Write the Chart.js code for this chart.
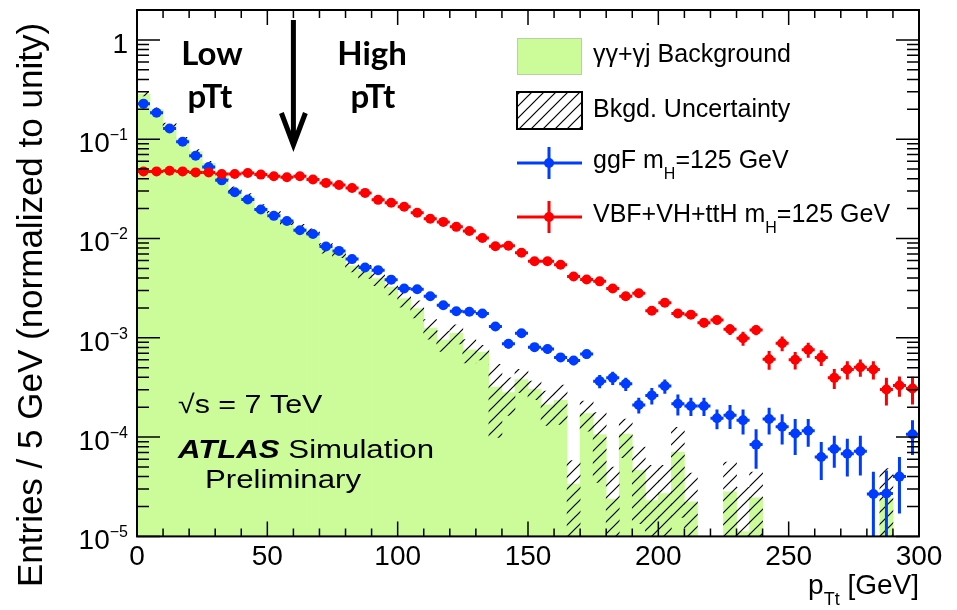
<!DOCTYPE html>
<html>
<head>
<meta charset="utf-8">
<script src="https://cdn.jsdelivr.net/npm/chart.js@4.4.1/dist/chart.umd.min.js"></script>
<style>
html, body { margin: 0; padding: 0; background: #fff; }
</style>
</head>
<body>
<canvas id="pttChart" width="957" height="610"></canvas>
<script>
// bin centres, 5 GeV bins
const ptBins = [2.5, 7.5, 12.5, 17.5, 22.5, 27.5, 32.5, 37.5, 42.5, 47.5,
  52.5, 57.5, 62.5, 67.5, 72.5, 77.5, 82.5, 87.5, 92.5, 97.5,
  102.5, 107.5, 112.5, 117.5, 122.5, 127.5, 132.5, 137.5, 142.5, 147.5,
  152.5, 157.5, 162.5, 167.5, 172.5, 177.5, 182.5, 187.5, 192.5, 197.5,
  202.5, 207.5, 212.5, 217.5, 222.5, 227.5, 232.5, 237.5, 242.5, 247.5,
  252.5, 257.5, 262.5, 267.5, 272.5, 277.5, 282.5, 287.5, 292.5, 297.5];
const binHalf = 2.5;

// gamma-gamma + gamma-j background (normalized)
const bkgYield = [0.285, 0.199, 0.139, 0.100, 0.075, 0.057, 0.042, 0.031, 0.0265, 0.0204,
  0.0175, 0.0150, 0.0128, 0.0114, 0.0080, 0.0072, 0.0053, 0.00466, 0.00394, 0.00325,
  0.00248, 0.00197, 0.00125, 0.00095, 0.00111, 0.000757, 0.000718, 0.000319, 0.00028, 0.00038,
  0.000302, 0.000211, 0.000234, 0.0000336, 0.000173, 0.000106, 0.0000238, 0.000107, 0.0000464, 0.0000229,
  0.000027, 0.0000705, 0.0000223, null, null, 0.0000281, 0.0000112, 0.0000245, null, null,
  null, null, null, null, null, null, null, 0.0000241, null, null];
const bkgError = [0.012, 0.008, 0.006, 0.0045, 0.0035, 0.0028, 0.0025, 0.0021, 0.0019, 0.0015,
  0.0013, 0.0012, 0.0011, 0.0011, 0.0009, 0.0008, 0.0007, 0.0007, 0.0006, 0.00055,
  0.00045, 0.00038, 0.00028, 0.00022, 0.00024, 0.00020, 0.00012, 0.00022, 0.000115, 0.0001,
  0.000064, 0.00008, 0.0001, 0.0000244, 0.000058, 0.000071, 0.000026, 0.000045, 0.000033, 0.000029,
  0.000025, 0.000055, 0.000021, null, null, 0.000028, 0.00002, 0.00002, null, null,
  null, null, null, null, null, null, null, 0.000024, null, null];

// ggF mH=125
const ggfYield = [0.228, 0.185, 0.128, 0.0944, 0.068, 0.0524, 0.0385, 0.0292, 0.0247, 0.0196,
  0.0169, 0.0150, 0.0121, 0.0111, 0.0083, 0.0075, 0.0062, 0.0051, 0.0048, 0.00385,
  0.00313, 0.00308, 0.00262, 0.00213, 0.00185, 0.00183, 0.00176, 0.00130, 0.00087, 0.00111,
  0.000805, 0.00077, 0.000635, 0.00059, 0.000685, 0.000366, 0.000395, 0.000344, 0.000211, 0.000263,
  0.000327, 0.000217, 0.000206, 0.000206, 0.000155, 0.000166, 0.000148, 0.000084, 0.000152, 0.000127,
  0.000109, 0.000116, 0.000063, 0.000076, 0.000068, 0.000072, 0.0000267, 0.000027, 0.00004, 0.000107];
const ggfError = [0.007, 0.0055, 0.0038, 0.0028, 0.002, 0.0016, 0.0012, 0.0009, 0.00075, 0.0006,
  0.0005, 0.00045, 0.00036, 0.00033, 0.00025, 0.00023, 0.00019, 0.00016, 0.00014, 0.00012,
  0.00019, 0.00018, 0.00016, 0.00013, 0.00011, 0.00011, 0.00011, 0.00008, 0.00009, 0.00011,
  0.00008, 0.00008, 0.000065, 0.00006, 0.00007, 0.000055, 0.00006, 0.000052, 0.000038, 0.00005,
  0.000053, 0.000052, 0.000043, 0.000043, 0.000035, 0.000045, 0.000042, 0.000036, 0.000046, 0.000043,
  0.000043, 0.000036, 0.000026, 0.000027, 0.000028, 0.000031, 0.000018, 0.000019, 0.000023, 0.000041];

// VBF+VH+ttH mH=125
const vbfYield = [0.0474, 0.0474, 0.0481, 0.0474, 0.0463, 0.0463, 0.0447, 0.0447, 0.0457, 0.0440,
  0.0423, 0.0413, 0.0423, 0.0392, 0.0363, 0.0345, 0.0322, 0.0288, 0.0245, 0.0229,
  0.0209, 0.0182, 0.0158, 0.0147, 0.0131, 0.0119, 0.0101, 0.00834, 0.00845, 0.0072,
  0.0059, 0.0059, 0.00543, 0.00415, 0.00387, 0.0037, 0.00313, 0.00262, 0.00281, 0.00187,
  0.00225, 0.00176, 0.00171, 0.00142, 0.00151, 0.00122, 0.00099, 0.0012, 0.000607, 0.00088,
  0.0006, 0.00076, 0.000635, 0.000395, 0.00048, 0.000506, 0.00048, 0.000302, 0.000331, 0.000309];
const vbfError = [0.0008, 0.0008, 0.0008, 0.0008, 0.0008, 0.0008, 0.0008, 0.0008, 0.0008, 0.0008,
  0.0008, 0.0008, 0.0008, 0.0007, 0.0007, 0.0007, 0.0006, 0.0006, 0.0005, 0.0005,
  0.0005, 0.00045, 0.0004, 0.0004, 0.00038, 0.00036, 0.00034, 0.0003, 0.0003, 0.00028,
  0.00026, 0.00026, 0.00025, 0.00022, 0.00021, 0.0002, 0.00019, 0.00018, 0.00018, 0.00016,
  0.00018, 0.00016, 0.00016, 0.00015, 0.00015, 0.00015, 0.00016, 0.00014, 0.00013, 0.00015,
  0.00012, 0.00013, 0.000115, 0.00009, 0.0001, 0.0001, 0.0001, 0.000094, 0.000076, 0.000096];

const xMajorTicks = [0, 50, 100, 150, 200, 250, 300];
const xMinorTicks = [10, 20, 30, 40, 60, 70, 80, 90, 110, 120, 130, 140, 160, 170, 180, 190,
  210, 220, 230, 240, 260, 270, 280, 290];
const yDecades = [1e-5, 1e-4, 1e-3, 1e-2, 1e-1, 1];
const yDecadeLabels = [['10', '\u22125'], ['10', '\u22124'], ['10', '\u22123'], ['10', '\u22122'], ['10', '\u22121'], ['1', '']];
const ptCut = 60;

const FONT = '"Liberation Sans", Arial, Helvetica, sans-serif';
const GREEN = 'rgb(204,252,153)';
const BLUE = 'rgb(0,60,255)';
const RED = 'rgb(255,0,0)';
const MARKER_R = 5;

const canvas = document.getElementById('pttChart');
const ctx = canvas.getContext('2d');

function makeHatch() {
    const c = document.createElement('canvas');
    c.width = 12;
    c.height = 12;
    const g = c.getContext('2d');
    g.strokeStyle = '#000';
    g.lineWidth = 1.2;
    g.beginPath();
    g.moveTo(0, 12); g.lineTo(12, 0);
    g.moveTo(-6, 6); g.lineTo(6, -6);
    g.moveTo(6, 18); g.lineTo(18, 6);
    g.stroke();
    return ctx.createPattern(c, 'repeat');
}
const hatch = makeHatch();

const bkgBars = [];
const bandBars = [];
ptBins.forEach((x, i) => {
    if (bkgYield[i] == null) return;
    bkgBars.push({x: x, y: bkgYield[i]});
    bandBars.push({x: x, y: [Math.max(bkgYield[i] - bkgError[i], 1e-6), bkgYield[i] + bkgError[i]]});
});
const ggfPoints = ptBins.map((x, i) => ({x: x, y: ggfYield[i]}));
const vbfPoints = ptBins.map((x, i) => ({x: x, y: vbfYield[i]}));

function text(s, x, y, font, align, sx) {
    ctx.save();
    ctx.font = font;
    ctx.fillStyle = '#000';
    ctx.textAlign = align || 'left';
    ctx.textBaseline = 'alphabetic';
    ctx.translate(x, y);
    ctx.scale(sx || 1, 1);
    ctx.fillText(s, 0, 0);
    const w = ctx.measureText(s).width * (sx || 1);
    ctx.restore();
    return w;
}

// x and y error bars, drawn just under each marker set
const errorBars = {
    id: 'errorBars',
    beforeDatasetDraw(chart, args) {
        const ds = chart.data.datasets[args.index];
        if (!ds.errors) return;
        const a = chart.chartArea;
        const xs = chart.scales.x, ys = chart.scales.y;
        ctx.save();
        ctx.beginPath();
        ctx.rect(a.left, a.top, a.right - a.left, a.bottom - a.top);
        ctx.clip();
        ctx.strokeStyle = ds.borderColor;
        ctx.lineWidth = 3;
        ds.data.forEach((p, i) => {
            const e = ds.errors[i];
            const px = xs.getPixelForValue(p.x);
            const py = ys.getPixelForValue(p.y);
            ctx.beginPath();
            ctx.moveTo(xs.getPixelForValue(p.x - binHalf), py);
            ctx.lineTo(xs.getPixelForValue(p.x + binHalf), py);
            ctx.moveTo(px, ys.getPixelForValue(Math.max(p.y - e, 1e-6)));
            ctx.lineTo(px, ys.getPixelForValue(p.y + e));
            ctx.stroke();
        });
        ctx.restore();
    }
};

function drawMarker(x, y, color) {
    ctx.save();
    ctx.strokeStyle = color;
    ctx.fillStyle = color;
    ctx.lineWidth = 3;
    ctx.beginPath();
    ctx.moveTo(x - 32, y); ctx.lineTo(x + 33, y);
    ctx.moveTo(x, y - 16); ctx.lineTo(x, y + 16);
    ctx.stroke();
    ctx.beginPath();
    ctx.arc(x, y, MARKER_R, 0, Math.PI * 2);
    ctx.fill();
    ctx.restore();
}

// frame, inward ticks, labels, legend and notes
const decorations = {
    id: 'decorations',
    afterDatasetsDraw(chart) {
        const a = chart.chartArea;
        const xs = chart.scales.x, ys = chart.scales.y;
        ctx.save();
        ctx.strokeStyle = '#000';
        ctx.lineWidth = 1.5;
        ctx.beginPath();
        xMajorTicks.concat(xMinorTicks).forEach(v => {
            const len = xMajorTicks.includes(v) ? 15 : 8;
            const px = xs.getPixelForValue(v);
            ctx.moveTo(px, a.bottom); ctx.lineTo(px, a.bottom - len);
            ctx.moveTo(px, a.top); ctx.lineTo(px, a.top + len);
        });
        yDecades.forEach(d => {
            for (let m = 1; m <= 9; m++) {
                const v = m * d;
                if (v > ys.max) break;
                const len = m === 1 ? 23 : 12;
                const py = ys.getPixelForValue(v);
                ctx.moveTo(a.left, py); ctx.lineTo(a.left + len, py);
                ctx.moveTo(a.right, py); ctx.lineTo(a.right - len, py);
            }
        });
        ctx.stroke();
        ctx.lineWidth = 2;
        ctx.strokeRect(a.left, a.top, a.right - a.left, a.bottom - a.top);
        ctx.restore();

        // y tick labels with superscripts
        yDecades.forEach((d, i) => {
            const py = ys.getPixelForValue(d);
            const lab = yDecadeLabels[i];
            let r = 128;
            if (lab[1]) {
                r -= text(lab[1], r, py + 1, '16px ' + FONT, 'right');
            }
            text(lab[0], r, py + 13, '28px ' + FONT, 'right');
        });

        // axis titles
        ctx.save();
        ctx.translate(42, 305);
        ctx.rotate(-Math.PI / 2);
        ctx.font = '35px ' + FONT;
        ctx.fillStyle = '#000';
        ctx.textAlign = 'center';
        ctx.fillText('Entries / 5 GeV (normalized to unity)', 0, 0);
        ctx.restore();

        let xt = 919;
        xt -= text(' [GeV]', xt, 594, '28px ' + FONT, 'right');
        xt -= text('Tt', xt, 605, '18px ' + FONT, 'right');
        text('p', xt, 594, '28px ' + FONT, 'right');

        // legend
        ctx.save();
        ctx.fillStyle = GREEN;
        ctx.fillRect(517, 38, 65, 37);
        ctx.strokeStyle = '#b8d0a4';
        ctx.lineWidth = 1;
        ctx.strokeRect(517.5, 38.5, 64, 36);
        ctx.fillStyle = '#fff';
        ctx.fillRect(517, 92, 65, 37);
        ctx.fillStyle = hatch;
        ctx.fillRect(517, 92, 65, 37);
        ctx.strokeStyle = '#000';
        ctx.lineWidth = 2;
        ctx.strokeRect(517, 92, 65, 37);
        ctx.restore();
        drawMarker(549, 163, BLUE);
        drawMarker(549, 217, RED);

        const lf = '25px ' + FONT;
        text('\u03b3\u03b3+\u03b3j Background', 593, 62, lf);
        text('Bkgd. Uncertainty', 593, 117, lf);
        let lx = 593;
        lx += text('ggF m', lx, 168, lf);
        lx += text('H', lx, 179, '16px ' + FONT);
        text('=125 GeV', lx, 168, lf);
        lx = 593;
        lx += text('VBF+VH+ttH m', lx, 222, lf);
        lx += text('H', lx, 233, '16px ' + FONT);
        text('=125 GeV', lx, 222, lf);

        // sqrt(s), ATLAS label
        const nf = '26px ' + FONT;
        text('\u221as = 7 TeV', 178, 413, nf, 'left', 1.17);
        let ax = 178;
        ax += text('ATLAS', ax, 458, 'italic bold 26px ' + FONT, 'left', 1.2);
        text(' Simulation', ax, 458, nf, 'left', 1.2);
        text('Preliminary', 205, 488, nf, 'left', 1.2);

        // low / high pTt split
        const bf = 'bold 33px Lato, "Open Sans", sans-serif';
        text('Low', 212, 65, bf, 'center');
        text('pTt', 210, 108, bf, 'center');
        text('High', 372, 65, bf, 'center');
        text('pTt', 373, 108, bf, 'center');
        const cx = xs.getPixelForValue(ptCut);
        ctx.save();
        ctx.strokeStyle = '#000';
        ctx.lineWidth = 5;
        ctx.beginPath();
        ctx.moveTo(cx, 20); ctx.lineTo(cx, 143);
        ctx.moveTo(cx - 12, 113); ctx.lineTo(cx, 145); ctx.lineTo(cx + 12, 113);
        ctx.stroke();
        ctx.restore();
    }
};

const pttChart = new Chart(ctx, {
    type: 'bar',
    data: {
        datasets: [{
            type: 'scatter',
            label: 'VBF+VH+ttH mH=125 GeV',
            data: vbfPoints,
            errors: vbfError,
            backgroundColor: RED,
            borderColor: RED,
            pointRadius: MARKER_R,
            pointBorderWidth: 0,
            order: 1
        }, {
            type: 'scatter',
            label: 'ggF mH=125 GeV',
            data: ggfPoints,
            errors: ggfError,
            backgroundColor: BLUE,
            borderColor: BLUE,
            pointRadius: MARKER_R,
            pointBorderWidth: 0,
            order: 2
        }, {
            label: 'Bkgd. Uncertainty',
            data: bandBars,
            backgroundColor: hatch,
            borderWidth: 0,
            grouped: false,
            barPercentage: 1,
            categoryPercentage: 1,
            order: 3
        }, {
            label: 'Background',
            data: bkgBars,
            backgroundColor: GREEN,
            borderWidth: 0,
            grouped: false,
            barPercentage: 1,
            categoryPercentage: 1,
            order: 4
        }]
    },
    options: {
        responsive: false,
        animation: false,
        layout: {
            padding: {left: 137, right: 38, top: 10, bottom: 32}
        },
        plugins: {
            legend: {display: false},
            tooltip: {enabled: false}
        },
        scales: {
            x: {
                type: 'linear',
                min: 0,
                max: 300,
                offset: false,
                grid: {display: false, drawTicks: false},
                border: {display: false},
                ticks: {
                    stepSize: 50,
                    color: '#000',
                    padding: 4,
                    maxRotation: 0,
                    autoSkip: false,
                    font: {family: FONT, size: 28}
                }
            },
            y: {
                type: 'logarithmic',
                min: 1e-5,
                max: 2,
                display: false
            }
        }
    },
    plugins: [errorBars, decorations]
});
</script>
</body>
</html>
